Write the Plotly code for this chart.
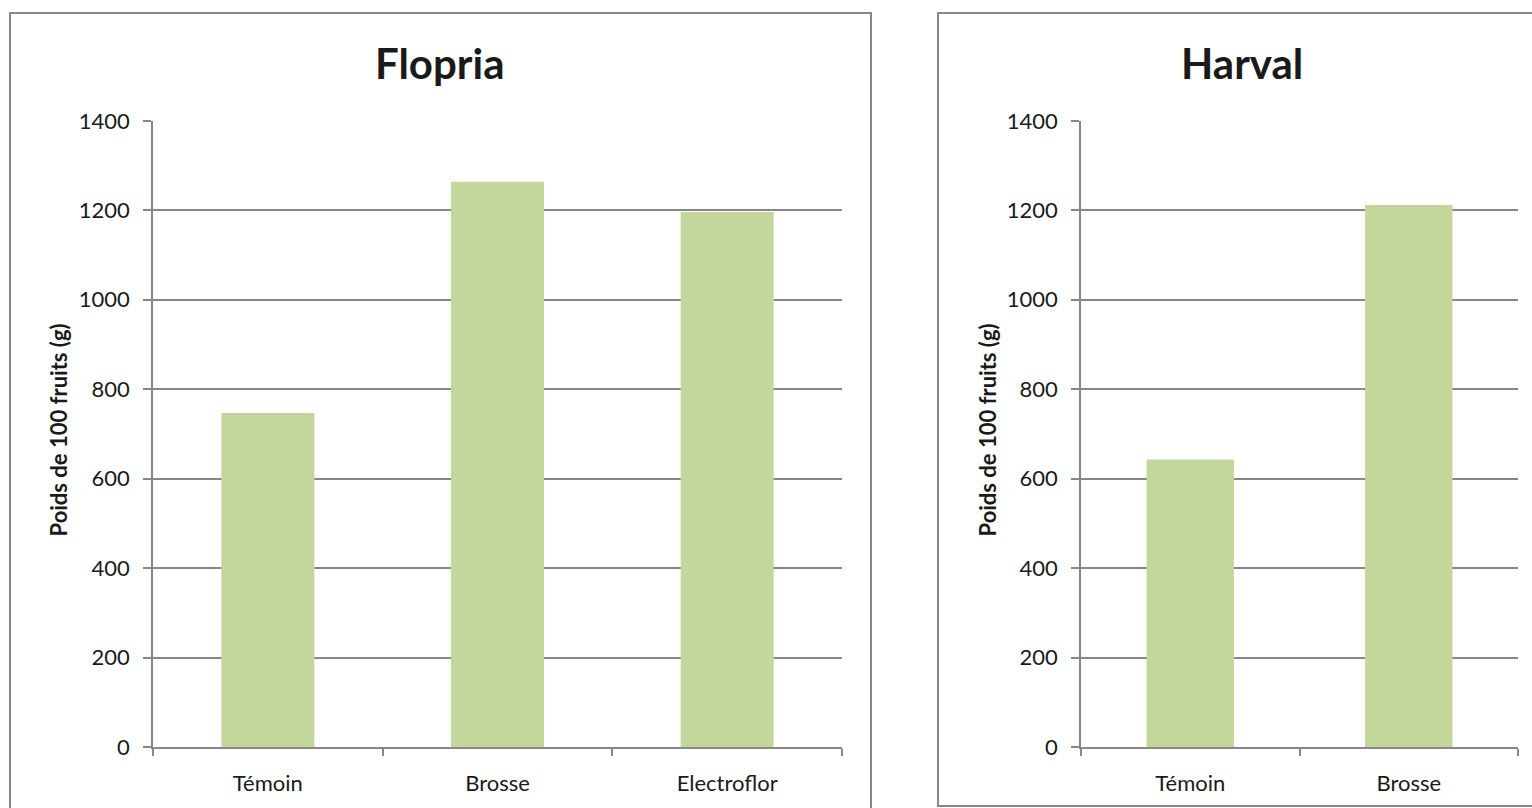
import plotly.graph_objects as go

# Data
flopria_categories = ["Témoin", "Brosse", "Electroflor"]
flopria_values = [747, 1264, 1196]
harval_categories = ["Témoin", "Brosse"]
harval_values = [643, 1212]
y_ticks = [0, 200, 400, 600, 800, 1000, 1200, 1400]
y_title = "Poids de 100 fruits (g)"
titles = ["Flopria", "Harval"]

W, H = 1532, 808
BAR = "#C3D69B"
GRID = "#878787"
TXT = "#1a1a1a"
FONT = "Lato"

def px(x):
    return x / W

# vertical mapping calibrated against the rendered page
def py(y):
    return 1 - (y - 13.0) / 782.0

fig = go.Figure()
fig.add_trace(go.Bar(x=flopria_categories, y=flopria_values, marker=dict(color=BAR, line=dict(width=0)),
                     xaxis="x", yaxis="y", showlegend=False))
fig.add_trace(go.Bar(x=harval_categories, y=harval_values, marker=dict(color=BAR, line=dict(width=0)),
                     xaxis="x2", yaxis="y2", showlegend=False, width=0.4))

ydom = [py(747), py(120)]
common_x = dict(type="category", showgrid=False, showline=True, linecolor=GRID, linewidth=1.5,
                ticks="outside", ticklen=7, tickcolor=GRID, tickwidth=1.5, tickson="boundaries",
                tickfont=dict(family=FONT, size=22, color=TXT), ticklabelstandoff=16,
                fixedrange=True)
common_y = dict(range=[0, 1400], tickvals=y_ticks, showgrid=True, gridcolor=GRID, gridwidth=1.5,
                showline=True, linecolor=GRID, linewidth=1.5, ticks="outside", ticklen=8,
                tickcolor=GRID, tickwidth=1.5, zeroline=False,
                tickfont=dict(family=FONT, size=22, color=TXT), ticklabelstandoff=9,
                domain=ydom, fixedrange=True)

fig.update_layout(
    width=W, height=H,
    margin=dict(l=0, r=0, t=0, b=0),
    paper_bgcolor="white", plot_bgcolor="white",
    bargap=0.595,
    xaxis=dict(common_x, domain=[px(153), px(842)], anchor="y"),
    yaxis=dict(common_y, anchor="x"),
    xaxis2=dict(common_x, domain=[px(1081), px(1518)], anchor="y2"),
    yaxis2=dict(common_y, anchor="x2"),
    shapes=[
        dict(type="rect", xref="paper", yref="paper", x0=px(10), x1=px(871), y0=py(840), y1=py(12),
             line=dict(color=GRID, width=2), fillcolor="rgba(0,0,0,0)", layer="below"),
        dict(type="rect", xref="paper", yref="paper", x0=px(938), x1=px(1560), y0=py(806), y1=py(12),
             line=dict(color=GRID, width=2), fillcolor="rgba(0,0,0,0)", layer="below"),
    ],
    annotations=[
        dict(text="<b>" + titles[0] + "</b>", xref="paper", yref="paper", x=px(440), y=py(62),
             showarrow=False, font=dict(family=FONT, size=42, color=TXT), xanchor="center", yanchor="middle"),
        dict(text="<b>" + titles[1] + "</b>", xref="paper", yref="paper", x=px(1242), y=py(62),
             showarrow=False, font=dict(family=FONT, size=42, color=TXT), xanchor="center", yanchor="middle"),
        dict(text="<b>" + y_title + "</b>", xref="paper", yref="paper", x=px(58), y=py(430),
             showarrow=False, textangle=-90, font=dict(family=FONT, size=22, color=TXT),
             xanchor="center", yanchor="middle"),
        dict(text="<b>" + y_title + "</b>", xref="paper", yref="paper", x=px(987), y=py(430),
             showarrow=False, textangle=-90, font=dict(family=FONT, size=22, color=TXT),
             xanchor="center", yanchor="middle"),
    ],
)

fig.write_html("out.html", config=dict(displayModeBar=False),
               post_script="document.body.style.margin='0';document.body.style.overflow='hidden';")
